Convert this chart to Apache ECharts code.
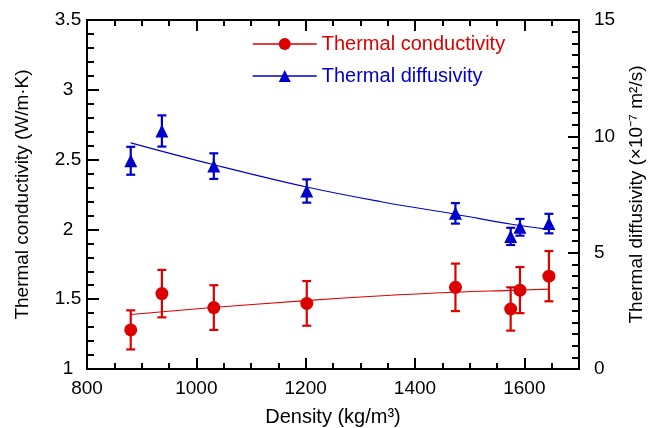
<!DOCTYPE html>
<html>
<head>
<meta charset="utf-8">
<script src="https://cdn.jsdelivr.net/npm/echarts@6/dist/echarts.min.js"></script>
<style>html,body{margin:0;padding:0;background:#fff}#c{width:649px;height:428px}</style>
</head>
<body>
<div id="c"></div>
<script>
// ---- data ----
const density      = [880, 937, 1032, 1202, 1474, 1575, 1592, 1645];
const conductivity = [1.28, 1.54, 1.44, 1.47, 1.585, 1.43, 1.565, 1.665];
const condErr      = [0.14, 0.17, 0.16, 0.16, 0.17, 0.155, 0.165, 0.18];
const diffusivity  = [8.95, 10.23, 8.72, 7.65, 6.69, 5.70, 6.09, 6.25];
const diffErr      = [0.60, 0.67, 0.55, 0.50, 0.44, 0.37, 0.36, 0.42];

const condFitX = [880, 1030, 1200, 1340, 1472, 1573, 1645];
const condFit  = [1.39, 1.44, 1.49, 1.525, 1.55, 1.563, 1.572];
const diffFitX = [880, 1032, 1204, 1338, 1474, 1577, 1645];
const diffFit  = [9.72, 8.78, 7.81, 7.19, 6.65, 6.22, 6.00];

const RED = '#dd0000', BLUE = '#0000cc';
const FONT = 'Liberation Sans, Arial, sans-serif';

const zip = (a, b) => a.map((v, i) => [v, b[i]]);
const zip3 = (a, b, c) => a.map((v, i) => [v, b[i], c[i]]);

function errRender(color) {
  return function (params, api) {
    const x = api.value(0), y = api.value(1), e = api.value(2);
    const top = api.coord([x, y + e]);
    const bot = api.coord([x, y - e]);
    const hw = 4.5;
    const st = { stroke: color, lineWidth: 2.2 };
    return {
      type: 'group',
      children: [
        { type: 'line', shape: { x1: top[0], y1: top[1], x2: bot[0], y2: bot[1] }, style: st },
        { type: 'line', shape: { x1: top[0] - hw, y1: top[1], x2: top[0] + hw, y2: top[1] }, style: st },
        { type: 'line', shape: { x1: bot[0] - hw, y1: bot[1], x2: bot[0] + hw, y2: bot[1] }, style: st }
      ]
    };
  };
}

const axisCommon = {
  axisLine: { show: true, onZero: false, lineStyle: { color: '#000', width: 2 } },
  axisTick: { show: true, inside: true, lineStyle: { color: '#000', width: 2 } },
  minorTick: { show: true, lineStyle: { color: '#000', width: 2 } },
  splitLine: { show: false },
  minorSplitLine: { show: false }
};

const chart = echarts.init(document.getElementById('c'), null, { renderer: 'canvas' });
chart.setOption({
  animation: false,
  backgroundColor: '#fff',
  textStyle: { fontFamily: FONT },
  grid: { left: 87, right: 70, top: 20, bottom: 59, containLabel: false, outerBoundsMode: 'none' },
  legend: {
    orient: 'vertical',
    left: 247, top: 29,
    itemWidth: 64, itemHeight: 15, itemGap: 12,
    textStyle: { fontFamily: FONT, fontSize: 20 },
    data: [
      { name: 'Thermal conductivity', textStyle: { color: RED }, lineStyle: { color: RED, width: 1.5, opacity: 1 } },
      { name: 'Thermal diffusivity', textStyle: { color: BLUE }, lineStyle: { color: BLUE, width: 1.5, opacity: 1 } }
    ]
  },
  xAxis: [
    Object.assign({}, axisCommon, {
      type: 'value', position: 'bottom', min: 800, max: 1700, interval: 200,
      axisTick: Object.assign({}, axisCommon.axisTick, { length: 11 }),
      minorTick: Object.assign({}, axisCommon.minorTick, { splitNumber: 4, length: 6 }),
      axisLabel: { color: '#000', fontSize: 19, margin: 10, fontFamily: FONT, showMaxLabel: false,
                   formatter: v => String(v) },
      name: 'Density (kg/m³)', nameLocation: 'middle', nameGap: 38,
      nameTextStyle: { color: '#000', fontSize: 20, fontFamily: FONT }
    }),
    Object.assign({}, axisCommon, {
      type: 'value', position: 'top', min: 800, max: 1700, interval: 200,
      axisTick: Object.assign({}, axisCommon.axisTick, { length: 11 }),
      minorTick: Object.assign({}, axisCommon.minorTick, { splitNumber: 4, length: 6 }),
      axisLabel: { show: false }
    })
  ],
  yAxis: [
    Object.assign({}, axisCommon, {
      type: 'value', position: 'left', min: 1, max: 3.5, interval: 0.5,
      axisTick: Object.assign({}, axisCommon.axisTick, { length: 12 }),
      minorTick: Object.assign({}, axisCommon.minorTick, { splitNumber: 5, length: 7 }),
      axisLabel: { color: '#000', fontSize: 19, margin: 19, align: 'center', fontFamily: FONT },
      name: 'Thermal conductivity (W/m·K)', nameLocation: 'middle', nameGap: 55,
      nameTextStyle: { color: '#000', fontSize: 19, fontFamily: FONT }
    }),
    Object.assign({}, axisCommon, {
      type: 'value', position: 'right', min: 0, max: 15, interval: 5,
      axisTick: Object.assign({}, axisCommon.axisTick, { length: 11 }),
      minorTick: Object.assign({}, axisCommon.minorTick, { splitNumber: 10, length: 7 }),
      axisLabel: { color: '#000', fontSize: 19, margin: 15, align: 'left', fontFamily: FONT },
      name: 'Thermal diffusivity (×10⁻⁷ m²/s)', nameLocation: 'middle', nameGap: 48,
      nameTextStyle: { color: '#000', fontSize: 19, fontFamily: FONT }
    })
  ],
  series: [
    { type: 'line', name: 'condFit', xAxisIndex: 0, yAxisIndex: 0, data: zip(condFitX, condFit),
      smooth: 0.4, showSymbol: false, symbol: 'none', lineStyle: { color: RED, width: 1.1 }, z: 1 },
    { type: 'line', name: 'diffFit', xAxisIndex: 0, yAxisIndex: 1, data: zip(diffFitX, diffFit),
      smooth: 0.4, showSymbol: false, symbol: 'none', lineStyle: { color: BLUE, width: 1.1 }, z: 1 },
    { type: 'custom', name: 'condErr', xAxisIndex: 0, yAxisIndex: 0, renderItem: errRender(RED),
      data: zip3(density, conductivity, condErr), z: 2 },
    { type: 'custom', name: 'diffErr', xAxisIndex: 0, yAxisIndex: 1, renderItem: errRender(BLUE),
      data: zip3(density, diffusivity, diffErr), z: 2 },
    { type: 'line', name: 'Thermal conductivity', xAxisIndex: 0, yAxisIndex: 0,
      data: zip(density, conductivity), symbol: 'circle', symbolSize: 13,
      itemStyle: { color: RED }, lineStyle: { color: RED, opacity: 0 }, z: 3 },
    { type: 'line', name: 'Thermal diffusivity', xAxisIndex: 0, yAxisIndex: 1,
      data: zip(density, diffusivity), symbol: 'triangle', symbolSize: 13,
      itemStyle: { color: BLUE }, lineStyle: { color: BLUE, opacity: 0 }, z: 3 }
  ]
});
</script>
</body>
</html>
